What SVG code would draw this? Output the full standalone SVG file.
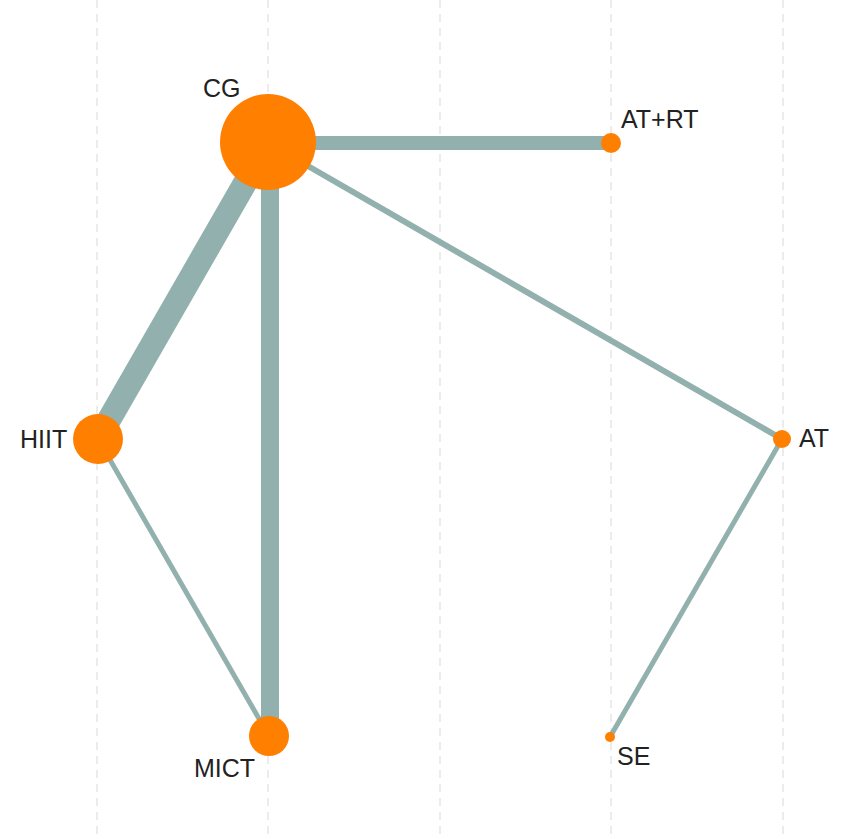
<svg xmlns="http://www.w3.org/2000/svg" width="851" height="839" viewBox="0 0 851 839">
<style>
.grid{stroke:#e6e6e6;stroke-width:1.5;stroke-dasharray:8 6;fill:none}
.edge{stroke:#92b1ae;stroke-linecap:butt;fill:none}
.node{fill:#ff7f00}
.lbl{font-family:"Liberation Sans",Arial,sans-serif;font-size:25px;fill:#222}
</style>
<rect width="851" height="839" fill="#ffffff"/>
<g id="grid">
<line class="grid" x1="97" y1="0" x2="97" y2="839"/>
<line class="grid" x1="268" y1="0" x2="268" y2="839"/>
<line class="grid" x1="440" y1="0" x2="440" y2="839"/>
<line class="grid" x1="611" y1="0" x2="611" y2="839"/>
<line class="grid" x1="783" y1="0" x2="783" y2="839"/>
</g>
<g id="connectors">
<line class="edge" x1="268" y1="143" x2="611" y2="143" stroke-width="14"/>
<line class="edge" x1="268" y1="143" x2="98" y2="439" stroke-width="24"/>
<line class="edge" x1="270" y1="143" x2="270" y2="736" stroke-width="18"/>
<line class="edge" x1="268" y1="143" x2="782" y2="439" stroke-width="6"/>
<line class="edge" x1="98" y1="439" x2="269" y2="736" stroke-width="5"/>
<line class="edge" x1="782" y1="439" x2="610" y2="737" stroke-width="5"/>
</g>
<g id="node-CG"><circle class="node" cx="268" cy="142" r="48"/><text class="lbl" x="203" y="97">CG</text></g>
<g id="node-ATRT"><circle class="node" cx="611" cy="143" r="10"/><text class="lbl" x="621" y="128">AT+RT</text></g>
<g id="node-HIIT"><circle class="node" cx="98" cy="439" r="25"/><text class="lbl" x="20" y="448">HIIT</text></g>
<g id="node-AT"><circle class="node" cx="782" cy="439" r="9"/><text class="lbl" x="799" y="447">AT</text></g>
<g id="node-MICT"><circle class="node" cx="269" cy="736" r="20"/><text class="lbl" x="194" y="777">MICT</text></g>
<g id="node-SE"><circle class="node" cx="610" cy="737" r="5"/><text class="lbl" x="617" y="765">SE</text></g>
</svg>
